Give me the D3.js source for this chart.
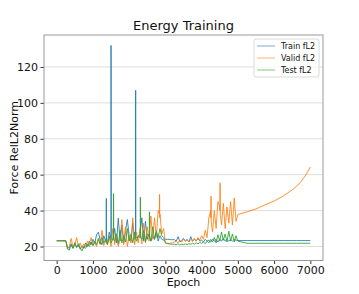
<!DOCTYPE html>
<html>
<head>
<meta charset="utf-8">
<script src="https://cdn.jsdelivr.net/npm/d3@7"></script>
<style>
  body { margin: 0; background: #fff; }
  svg { display: block; font-family: "DejaVu Sans", sans-serif; }
</style>
</head>
<body>
<div id="chart"></div>
<script>
// x values (epochs) shared by all three series
const epochs = [
  0, 50, 100, 150, 200, 250, 300, 350, 400, 450, 500, 550, 600, 650, 700, 750, 800, 850, 900, 950,
  1000, 1050, 1100, 1150, 1200, 1250, 1300, 1350, 1400, 1450, 1500, 1550, 1600, 1650, 1700, 1750, 1800, 1850, 1900, 1950,
  2000, 2050, 2100, 2150, 2200, 2250, 2300, 2350, 2400, 2450, 2500, 2550, 2600, 2650, 2700, 2750, 2800, 2850, 2900, 2950,
  3000, 3050, 3100, 3150, 3200, 3250, 3300, 3350, 3400, 3450, 3500, 3550, 3600, 3650, 3700, 3750, 3800, 3850, 3900, 3950,
  4000, 4050, 4100, 4150, 4200, 4250, 4300, 4350, 4400, 4450, 4500, 4550, 4600, 4650, 4700, 4750, 4800, 4850, 4900, 4950,
  5000, 5250, 5500, 5750, 6000, 6250, 6500, 6625, 6750, 6875, 7000
];

const trainFL2 = [
  23.2, 23.2, 23.2, 23.2, 23.2, 23.2, 19.5, 19, 21.5, 19, 22, 19.5, 21, 18.5, 20.5, 19, 22, 20, 23, 21,
  24, 21.5, 26.5, 28, 23.5, 21, 26, 23, 22, 28, 24, 24, 30, 22, 35.8, 23, 32, 22, 29, 35,
  26, 23, 33, 24, 25, 25, 27, 36, 23, 34, 24, 27, 23, 26, 24, 29, 23, 26, 24, 23.5,
  24, 24, 24, 23.8, 23.8, 23.8, 23, 25.5, 22.5, 23.5, 24.5, 23, 24, 22.5, 25.5, 23, 24, 23, 24.5, 23,
  23.5, 22.5, 24, 23, 23.5, 22.5, 24, 23, 24, 22.5, 24, 23, 24.5, 23, 24, 23, 24, 23, 24, 23.5,
  23.3, 23.3, 23.3, 23.3, 23.3, 23.3, 23.3, 23.3, 23.3, 23.3, 23.3
];

const validFL2 = [
  23.2, 23.2, 23.2, 23.2, 23.2, 23.2, 19, 20, 24.5, 19.5, 21, 25, 20, 22, 19, 21.5, 20, 23, 21, 25,
  20.5, 22, 20, 24, 21, 29, 20.5, 23, 21, 25, 20, 30, 21, 27, 20, 24, 35, 21, 31, 20,
  26, 22, 36, 21, 28, 22, 30, 21.5, 33, 22, 31, 23, 37, 24, 36, 25, 40, 38, 27, 30,
  22, 21.5, 21.5, 22, 22, 22.5, 23, 22, 23.5, 22.5, 24, 23, 23.5, 22.5, 24, 23, 24.5, 23, 25, 23.5,
  26, 24, 29, 25, 36, 40, 28, 40, 30, 45, 42, 32, 44, 30, 42, 33, 45, 32, 47, 34,
  37.8, 39.3, 40.9, 43.2, 45.3, 48.1, 51.5, 53.6, 56.3, 59.8, 64.3
];

const testFL2 = [
  23.2, 23.2, 23.2, 23.2, 23.2, 23.2, 18.5, 18, 21, 19, 22, 19.5, 21.5, 19, 17.5, 20, 19, 21.5, 20, 22.5,
  20.5, 23, 21, 24.5, 21.5, 25, 22, 24, 21, 26, 22, 24, 23, 27, 21.5, 29, 22, 26, 22.5, 30,
  23, 27, 22, 28, 23, 26, 25, 24, 29, 22.5, 27, 26, 23, 31, 24, 28, 25, 30, 26, 25,
  22, 21.8, 21.5, 21.3, 21.2, 21.2, 21, 21.5, 20.8, 21.3, 21, 21.5, 21, 21.6, 21.2, 21.8, 21.3, 22, 21.5, 22.2,
  21.8, 22.5, 21.5, 23, 22, 24, 22.5, 25, 22, 26.5, 23, 28, 23.5, 27, 22.5, 28.5, 23, 27, 22.5, 26,
  23, 21.8, 21.8, 21.8, 21.8, 21.8, 21.8, 21.8, 21.8, 21.8, 21.8
];

// single-epoch spikes, merged into each series
const trainSpikeEpochs = [1365, 1370, 1375, 1495, 1500, 1505, 2175, 2180, 2185];
const trainSpikeValues = [24, 46.8, 23, 25, 132, 24, 26, 107, 25];
const validSpikeEpochs = [2835, 2840, 2845, 4255, 4260, 4265, 4505, 4510, 4515];
const validSpikeValues = [38, 49, 36, 36, 48, 34, 40, 55.5, 38];
const testSpikeEpochs = [1565, 1570, 1575, 2305, 2310, 2315, 2555, 2560, 2565];
const testSpikeValues = [24, 49.5, 24, 25, 47.5, 25, 26, 39.3, 25];

const seriesNames = ['Train fL2', 'Valid fL2', 'Test fL2'];
const seriesColors = ['#1f77b4', '#ff7f0e', '#2ca02c'];
const xTicks = [0, 1000, 2000, 3000, 4000, 5000, 6000, 7000];
const yTicks = [20, 40, 60, 80, 100, 120];

const width = 359, height = 294;
const margin = { left: 44, right: 36, top: 35, bottom: 33.5 };

const svg = d3.select('#chart').append('svg')
  .attr('width', width)
  .attr('height', height);

const x = d3.scaleLinear().domain([-350, 7350]).range([margin.left, width - margin.right]);
const y = d3.scaleLinear().domain([12.2, 137.8]).range([height - margin.bottom, margin.top]);

// horizontal grid
svg.append('g')
  .selectAll('line')
  .data(yTicks)
  .enter().append('line')
  .attr('x1', margin.left)
  .attr('x2', width - margin.right)
  .attr('y1', d => y(d))
  .attr('y2', d => y(d))
  .attr('stroke', '#dedede')
  .attr('stroke-width', 1);

// axes
const xAxis = svg.append('g')
  .attr('transform', `translate(0, ${height - margin.bottom})`)
  .call(d3.axisBottom(x).tickValues(xTicks).tickFormat(d3.format('d')).tickSize(3.5).tickPadding(2.5));
const yAxis = svg.append('g')
  .attr('transform', `translate(${margin.left}, 0)`)
  .call(d3.axisLeft(y).tickValues(yTicks).tickFormat(d3.format('d')).tickSize(3.5).tickPadding(2.5));

[xAxis, yAxis].forEach(g => {
  g.select('.domain').remove();
  g.selectAll('.tick line').attr('stroke', '#333');
  g.selectAll('.tick text')
    .attr('fill', '#111')
    .attr('font-size', '11px')
    .attr('font-family', '"DejaVu Sans", sans-serif');
});

// merge base grid and spikes, sorted by epoch
function buildPoints(values, spikeEpochs, spikeValues) {
  const pts = values.map((v, i) => [epochs[i], v]);
  spikeEpochs.forEach((e, i) => pts.push([e, spikeValues[i]]));
  return pts.sort((a, b) => a[0] - b[0]);
}

const allSeries = [
  buildPoints(trainFL2, trainSpikeEpochs, trainSpikeValues),
  buildPoints(validFL2, validSpikeEpochs, validSpikeValues),
  buildPoints(testFL2, testSpikeEpochs, testSpikeValues)
];

const line = d3.line()
  .x(d => x(d[0]))
  .y(d => y(d[1]));

allSeries.forEach((pts, k) => {
  svg.append('path')
    .datum(pts)
    .attr('d', line)
    .attr('fill', 'none')
    .attr('stroke', seriesColors[k])
    .attr('stroke-width', 1)
    .attr('stroke-opacity', 0.85)
    .attr('stroke-linejoin', 'round');
});

// frame
svg.append('rect')
  .attr('x', margin.left)
  .attr('y', margin.top)
  .attr('width', width - margin.left - margin.right)
  .attr('height', height - margin.top - margin.bottom)
  .attr('fill', 'none')
  .attr('stroke', '#999')
  .attr('stroke-width', 1);

// title and labels
svg.append('text')
  .attr('x', (margin.left + width - margin.right) / 2)
  .attr('y', 30)
  .attr('text-anchor', 'middle')
  .attr('font-size', '13px')
  .attr('fill', '#111')
  .text('Energy Training');

svg.append('text')
  .attr('x', (margin.left + width - margin.right) / 2)
  .attr('y', 286)
  .attr('text-anchor', 'middle')
  .attr('font-size', '11px')
  .attr('fill', '#111')
  .text('Epoch');

svg.append('text')
  .attr('transform', `translate(18, ${(margin.top + height - margin.bottom) / 2}) rotate(-90)`)
  .attr('text-anchor', 'middle')
  .attr('font-size', '11px')
  .attr('fill', '#111')
  .text('Force RelL2Norm');

// legend
const legend = svg.append('g').attr('transform', 'translate(254, 39)');
legend.append('rect')
  .attr('width', 65)
  .attr('height', 38)
  .attr('rx', 2)
  .attr('fill', '#fff')
  .attr('fill-opacity', 0.8)
  .attr('stroke', '#d0d0d0')
  .attr('stroke-width', 0.8);

seriesNames.forEach((name, k) => {
  const row = legend.append('g').attr('transform', `translate(0, ${7 + k * 12})`);
  row.append('line')
    .attr('x1', 3).attr('x2', 21)
    .attr('stroke', seriesColors[k])
    .attr('stroke-width', 1)
    .attr('stroke-opacity', 0.6);
  row.append('text')
    .attr('x', 27)
    .attr('y', 3)
    .attr('font-size', '8px')
    .attr('fill', '#111')
    .text(name);
});
</script>
</body>
</html>
